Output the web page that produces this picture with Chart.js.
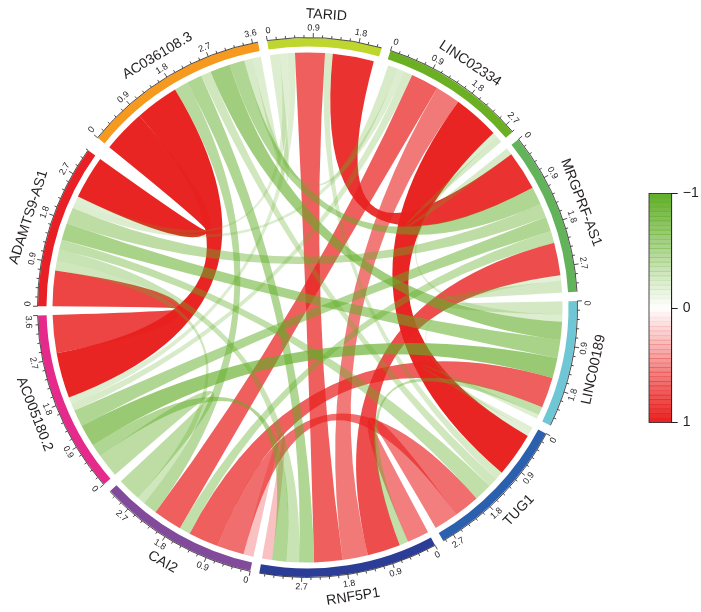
<!DOCTYPE html>
<html>
<head>
<meta charset="utf-8">
<style>
html,body{margin:0;padding:0;background:#fff;}
#wrap{position:relative;width:701px;height:612px;overflow:hidden;}
canvas{position:absolute;display:block;}
</style>
<script src="https://cdn.jsdelivr.net/npm/chart.js@4"></script>
</head>
<body>
<div id="wrap">
<canvas id="c" width="701" height="612" style="left:0;top:0;width:701px;height:612px"></canvas>
<canvas id="lg" width="61" height="256" style="left:640px;top:180px;width:61px;height:256px"></canvas>
</div>
<script>
const sectorNames  = ["TARID","LINC02334","MRGPRF-AS1","LINC00189","TUG1","RNF5P1","CAI2","AC005180.2","ADAMTS9-AS1","AC036108.3"];
const sectorTotals = [2.25,2.89,3.23,2.5,2.93,3.53,3.19,3.6,3.24,3.71];
const sectorColors = ["#bfd62f","#6bb023","#62b35a","#6fc6d4","#2a60ae","#2b3d97","#824a9b","#e62a8c","#e81f25","#f59a1e"];
const sectorGaps   = [0.18,0.18,0.18,0.18,0.18,0.18,0.18,0.18,0.307,0.18];
const majorStep = 0.9;
const minorPerMajor = 5;
const T=0,L=1,M=2,C=3,U=4,R=5,A=6,B=7,D=8,E=9;

const linkFrom      = [D,E,B,T,L,T,L,L,M,C,R,U,U, L,L,M,M,C,C,C,C,C,M,M,M,M,R,R,R,A,A,A,U,U,U,T,T,T,L,L,L];
const linkFromStart = [2.34,0.90,2.81,1.31,1.68,0.53,0.58,1.16,2.19,1.60,3.32,2.43,1.89, 2.76,2.65,2.98,2.87,2.41,2.24,0.42,0.80,1.18,0.97,1.34,1.63,1.94,2.45,2.76,3.02,2.70,2.23,2.53,1.52,1.32,1.15,0.01,0.21,0.37,0.05,0.25,0.40];
const linkFromEnd   = [3.24,1.81,3.60,2.17,2.65,1.15,1.16,1.68,2.87,2.24,3.53,2.93,2.43, 2.89,2.76,3.23,2.98,2.50,2.41,0.80,1.18,1.60,1.34,1.63,1.94,2.19,2.76,3.02,3.32,3.19,2.53,2.70,1.89,1.52,1.32,0.21,0.37,0.53,0.25,0.40,0.58];
const linkTo        = [E,B,D,M,U,R,A,R,R,A,A,R,A, M,C,C,U,U,R,E,D,B,E,D,B,A,E,D,B,B,E,D,D,E,T,E,D,B,E,D,B];
const linkToStart   = [0,1.86,0,0.15,0.22,1.86,1.63,1.33,0.64,0.77,0,0,0.21, 0,0.275,0,0.11,0.02,0.46,2.63,1.39,0.76,3.05,1.74,1.22,1.40,2.10,0.94,0.49,0,1.81,0.74,1.18,2.42,1.15,3.53,2.21,1.72,3.36,2.08,1.57];
const linkToEnd     = [0.90,2.81,0.74,0.97,1.15,2.45,2.23,1.86,1.33,1.40,0.21,0.46,0.77, 0.15,0.42,0.275,0.22,0.11,0.64,3.05,1.74,1.22,3.36,2.08,1.57,1.63,2.42,1.18,0.76,0.49,2.10,0.94,1.39,2.63,1.31,3.71,2.34,1.86,3.53,2.21,1.72];
const linkValues    = [0.98,0.98,0.84,0.92,0.98,0.72,0.72,0.60,0.80,0.72,0.28,0.58,0.65, -0.25,-0.22,-0.28,-0.18,-0.20,-0.40,-0.60,-0.55,-0.65,-0.50,-0.42,-0.50,-0.40,-0.50,-0.35,-0.50,-0.42,-0.45,-0.30,-0.40,-0.30,-0.25,-0.22,-0.20,-0.22,-0.25,-0.22,-0.25];

const legendTicks = [-1,0,1];
const legendBandCount = 50;

const INK = "#231f20";
const FONT = '"Liberation Sans", Arial, sans-serif';
function valueColor(v){
  const a = Math.min(1, Math.abs(v));
  return v >= 0 ? `rgba(232,33,31,${a})` : `rgba(98,174,40,${a})`;
}

const ringData = [];
sectorTotals.forEach((t, i) => { ringData.push(t); ringData.push(sectorGaps[i]); });
const ringColors = [];
sectorColors.forEach(c => { ringColors.push(c); ringColors.push("rgba(0,0,0,0)"); });

const chordR = 255, tickBase = 270, majorLen = 4.5, minorLen = 2.5, tickLabelR = 279.5, nameR = 293;

function uprightRotation(angle){
  let th = (angle + Math.PI/2) * 180/Math.PI;
  th = ((th % 360) + 360) % 360;
  const rot = (th > 90 && th <= 270) ? th - 180 : (th > 270 ? th - 360 : th);
  return rot * Math.PI/180;
}

const chordPlugin = {
  id: "chords",
  afterDatasetsDraw(chart){
    const ctx = chart.ctx;
    const arcs = chart.getDatasetMeta(0).data;
    const cx = arcs[0].x, cy = arcs[0].y;
    const pos = (s, v) => {
      const arc = arcs[s*2];
      return arc.startAngle + (arc.endAngle - arc.startAngle) * v / sectorTotals[s];
    };
    linkValues.forEach((v, i) => {
      const a0 = pos(linkFrom[i], linkFromStart[i]), a1 = pos(linkFrom[i], linkFromEnd[i]);
      const b0 = pos(linkTo[i], linkToStart[i]), b1 = pos(linkTo[i], linkToEnd[i]);
      ctx.beginPath();
      ctx.arc(cx, cy, chordR, a0, a1);
      ctx.quadraticCurveTo(cx, cy, cx + chordR*Math.cos(b0), cy + chordR*Math.sin(b0));
      ctx.arc(cx, cy, chordR, b0, b1);
      ctx.quadraticCurveTo(cx, cy, cx + chordR*Math.cos(a0), cy + chordR*Math.sin(a0));
      ctx.closePath();
      ctx.fillStyle = valueColor(v);
      ctx.fill();
    });
    ctx.strokeStyle = INK;
    ctx.fillStyle = INK;
    ctx.lineWidth = 0.8;
    sectorNames.forEach((name, s) => {
      const arc = arcs[s*2];
      ctx.beginPath();
      ctx.arc(cx, cy, tickBase, arc.startAngle, arc.endAngle);
      ctx.stroke();
      const minor = majorStep / minorPerMajor;
      const n = Math.floor(sectorTotals[s] / minor + 1e-6);
      for (let k = 0; k <= n; k++){
        const val = k * minor, ang = pos(s, val), major = k % minorPerMajor === 0;
        const len = major ? majorLen : minorLen;
        ctx.beginPath();
        ctx.moveTo(cx + tickBase*Math.cos(ang), cy + tickBase*Math.sin(ang));
        ctx.lineTo(cx + (tickBase+len)*Math.cos(ang), cy + (tickBase+len)*Math.sin(ang));
        ctx.stroke();
        if (major){
          const text = k === 0 ? "0" : (k/minorPerMajor*majorStep).toFixed(1);
          ctx.font = "9px " + FONT;
          // labels at a sector's very edge are pulled inside the sector
          const half = ctx.measureText(text).width / 2;
          let labelAng = ang;
          if (k === 0) labelAng += half / tickLabelR;
          else if (sectorTotals[s] - val < 0.02) labelAng -= half / tickLabelR;
          ctx.save();
          ctx.translate(cx + tickLabelR*Math.cos(labelAng), cy + tickLabelR*Math.sin(labelAng));
          ctx.rotate(uprightRotation(ang));
          ctx.textAlign = "center";
          ctx.textBaseline = "middle";
          ctx.fillText(text, 0, 0);
          ctx.restore();
        }
      }
      const mid = (arc.startAngle + arc.endAngle)/2;
      ctx.save();
      ctx.translate(cx + nameR*Math.cos(mid), cy + nameR*Math.sin(mid));
      ctx.rotate(uprightRotation(mid));
      ctx.font = "14.1px " + FONT;
      ctx.textAlign = "center";
      ctx.textBaseline = "middle";
      ctx.fillText(name, 0, 0);
      ctx.restore();
    });
  }
};

new Chart(document.getElementById("c"), {
  type: "doughnut",
  data: { labels: ringData.map((_, i) => i % 2 ? "" : sectorNames[i/2]),
          datasets: [{ data: ringData, backgroundColor: ringColors, borderWidth: 0, hoverOffset: 0 }] },
  options: {
    responsive: false, animation: false,
    rotation: -8.6,
    cutout: "96.85%",
    layout: { padding: { left: 38, top: 38, right: 124, bottom: 35 } },
    plugins: { legend: { display: false }, tooltip: { enabled: false } },
    events: []
  },
  plugins: [chordPlugin]
});

const bandEdges = [];
for (let i = 0; i <= legendBandCount; i++) bandEdges.push(-1 + 2*i/legendBandCount);
const legendDatasets = [];
for (let i = 0; i < legendBandCount; i++){
  const mid = (bandEdges[i] + bandEdges[i+1]) / 2;
  legendDatasets.push({ data: [[bandEdges[i], bandEdges[i+1]]], backgroundColor: valueColor(mid),
    borderWidth: 0, barPercentage: 1, categoryPercentage: 1, grouped: false });
}
new Chart(document.getElementById("lg"), {
  type: "bar",
  data: { labels: ["r"], datasets: legendDatasets },
  options: {
    responsive: false, animation: false, events: [],
    layout: { padding: { left: 9, top: 11.7, bottom: 12.7, right: 0 } },
    plugins: { legend: { display: false }, tooltip: { enabled: false } },
    scales: {
      x: { display: false },
      y: {
        position: "right", reverse: true, min: -1, max: 1,
        afterFit(s){ s.width = 29.3; },
        afterBuildTicks(s){ s.ticks = legendTicks.map(v => ({ value: v })); },
        border: { display: true, color: INK, width: 1 },
        grid: { drawOnChartArea: false, tickLength: 6, tickColor: INK, tickWidth: 1 },
        ticks: { padding: 5, color: INK, font: { family: "Liberation Sans", size: 14 },
                 callback: v => v < 0 ? "\u2212" + Math.abs(v) : String(v) }
      }
    }
  },
  plugins: [{
    id: "barFrame",
    afterDraw(chart){
      const a = chart.chartArea, ctx = chart.ctx;
      ctx.save();
      ctx.strokeStyle = INK; ctx.lineWidth = 0.8;
      ctx.strokeRect(a.left, a.top, a.right - a.left, a.bottom - a.top);
      ctx.restore();
    }
  }]
});
</script>
</body>
</html>
